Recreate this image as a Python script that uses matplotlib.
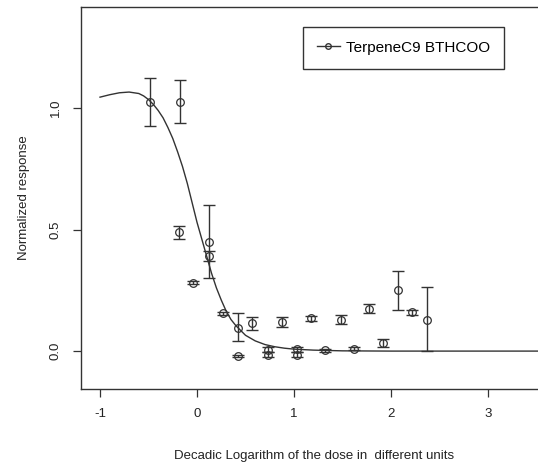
import numpy as np
import matplotlib
matplotlib.use("Agg")
import matplotlib.pyplot as plt

plt.rcParams['font.family'] = ['Liberation Sans', 'DejaVu Sans']
plt.rcParams['axes.unicode_minus'] = False

# observed points: log dose, mean response, lower / upper error limits
logdose = [-0.48, -0.18, -0.19, 0.12, 0.12, -0.04, 0.27, 0.42, 0.42, 0.565,
           0.73, 0.73, 0.88, 1.03, 1.03, 1.18, 1.32, 1.48, 1.62, 1.77,
           1.92, 2.07, 2.22, 2.37]
resp = [1.025, 1.025, 0.49, 0.45, 0.39, 0.28, 0.155, 0.095, -0.02, 0.115,
        0.005, -0.015, 0.12, 0.008, -0.015, 0.135, 0.003, 0.13, 0.01, 0.175,
        0.035, 0.25, 0.16, 0.13]
lower = [0.925, 0.94, 0.46, 0.30, 0.37, 0.275, 0.15, 0.04, -0.025, 0.085,
         -0.005, -0.025, 0.10, -0.002, -0.025, 0.125, -0.003, 0.11, 0.004, 0.155,
         0.017, 0.17, 0.15, 0.0]
upper = [1.125, 1.115, 0.515, 0.60, 0.41, 0.29, 0.16, 0.155, -0.015, 0.14,
         0.015, -0.005, 0.14, 0.018, -0.005, 0.145, 0.009, 0.15, 0.016, 0.195,
         0.05, 0.33, 0.17, 0.265]

# fitted curve
curve_x = [-1.0, -0.9, -0.8, -0.7, -0.6, -0.55, -0.5, -0.45, -0.4, -0.35, -0.3,
           -0.25, -0.2, -0.15, -0.1, -0.05, 0.0, 0.05, 0.1, 0.15, 0.2, 0.25,
           0.3, 0.35, 0.4, 0.5, 0.6, 0.7, 0.8, 0.9, 1.0, 1.2, 1.5, 2.0, 3.0, 3.6]
curve_y = [1.045, 1.055, 1.063, 1.066, 1.06, 1.05, 1.035, 1.015, 0.99, 0.96, 0.92,
           0.875, 0.82, 0.76, 0.69, 0.61, 0.53, 0.46, 0.39, 0.32, 0.26, 0.21,
           0.165, 0.13, 0.105, 0.065, 0.042, 0.027, 0.018, 0.012, 0.008, 0.004,
           0.001, 0.0, 0.0, 0.0]

xticks = [-1, 0, 1, 2, 3]
yticks = [0.0, 0.5, 1.0]
ytick_labels = ["0.0", "0.5", "1.0"]

W, H = 538, 470
fig = plt.figure(figsize=(W / 100, H / 100), dpi=100)
xlim = (-1.196, 3.6)
ylim = (-0.156, 1.416)
left, right = 81, 81 + (xlim[1] - xlim[0]) * 97
bottom, top = 389, 7
ax = fig.add_axes([left / W, 1 - bottom / H, (right - left) / W, (bottom - top) / H])
ax.set_xlim(*xlim)
ax.set_ylim(*ylim)

col = '#333333'
y = np.array(resp)
err = [y - np.array(lower), np.array(upper) - y]
ax.errorbar(logdose, resp, yerr=err, fmt='none', ecolor=col, elinewidth=1.0,
            capsize=4.5, capthick=1.0)
ax.plot(logdose, resp, 'o', mfc='none', mec=col, ms=5.5, mew=0.9)
ax.plot(curve_x, curve_y, '-', color=col, lw=1.0)

ax.set_xticks(xticks)
ax.set_yticks(yticks)
ax.set_yticklabels(ytick_labels, rotation=90, va='center')
ax.tick_params(direction='out', length=6, width=0.9, colors=col, labelsize=9.5,
               labelcolor='#222222')
ax.tick_params(axis='x', pad=8)
ax.tick_params(axis='y', pad=8)
for s in ax.spines.values():
    s.set_color(col)
    s.set_linewidth(1.0)

ax.set_xlabel("Decadic Logarithm of the dose in  different units", fontsize=9.5,
              color='#222222', labelpad=21)
ax.set_ylabel("Normalized response", fontsize=9.5, color='#222222', labelpad=14)

# legend
h, = ax.plot([], [], '-o', color=col, mfc='none', mec=col, ms=4, lw=1.0)
leg = ax.legend([h], ["TerpeneC9 BTHCOO"], loc='upper left',
                bbox_to_anchor=(303 / W, 1 - 27 / H), bbox_transform=fig.transFigure,
                fancybox=False, framealpha=1, edgecolor=col, fontsize=11,
                handlelength=1.5, borderpad=0.9, handletextpad=0.4, borderaxespad=0)
leg.get_frame().set_linewidth(1.0)

fig.savefig("out.png", dpi=100)
